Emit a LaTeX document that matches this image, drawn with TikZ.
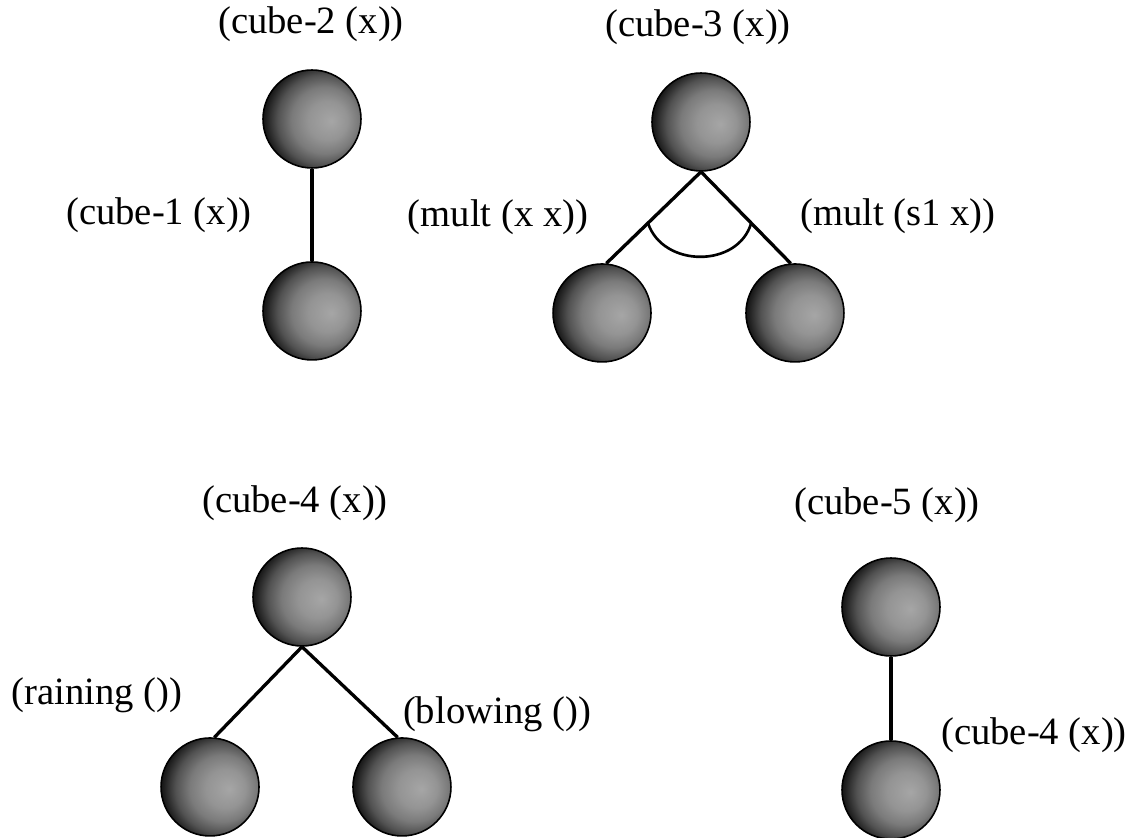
\documentclass[tikz,border=0pt]{standalone}
\usepackage{fontspec}
\setmainfont{Liberation Serif}
\usetikzlibrary{positioning, calc}
\pgfdeclareradialshading{halftone}{\pgfpoint{10bp}{-1bp}}{%
  color(0bp)=(black!35); color(10bp)=(black!42); color(17bp)=(black!52);
  color(23bp)=(black!68); color(28bp)=(black!88); color(32bp)=(black);
  color(50bp)=(black)}

\begin{document}
\begin{tikzpicture}[
    x=0.02cm, y=-0.02cm,
    ball/.style={circle, draw, line width=0.9pt, shade, shading=halftone, minimum size=1.96cm, inner sep=0pt, on grid},
    term/.style={font=\fontsize{22}{26}\selectfont, inner sep=0pt},
    edge/.style={line width=1.9pt}
]
    \useasboundingbox (0,0) rectangle (1137,838);

    % cube-2 over cube-1
    \node [ball] (c2) at (312,119) {};
    \node [ball, below=3.84cm of c2] (c1) {};
    \node [term] (t2) at (311,24) {(cube-2 (x))};
    \node [term] (t1) at (159,215) {(cube-1 (x))};

    % cube-3 with two mult children
    \node [ball] (c3) at (701,122) {};
    \node [ball, below left=3.82cm and 1.98cm of c3] (m1) {};
    \node [ball, below right=3.82cm and 1.88cm of c3] (m2) {};
    \node [term] (t3) at (698,27) {(cube-3 (x))};
    \node [term] (tm1) at (498,217) {(mult (x x))};
    \node [term] (tm2) at (898,216) {(mult (s1 x))};

    % cube-4 with raining / blowing
    \node [ball] (c4) at (302,597) {};
    \node [ball, below left=3.8cm and 1.84cm of c4] (rain) {};
    \node [ball, below right=3.8cm and 2.0cm of c4] (blow) {};
    \node [term] (t4) at (295,503) {(cube-4 (x))};
    \node [term] (tr) at (97,695) {(raining ())};
    \node [term] (tb) at (497,714) {(blowing ())};

    % cube-5 over cube-4
    \node [ball] (c5) at (891,607) {};
    \node [ball, below=3.66cm of c5] (c4b) {};
    \node [term] (t5) at (887,505) {(cube-5 (x))};
    \node [term] (t4b) at (1034,735) {(cube-4 (x))};

    \draw [edge] (c2) -- (c1);
    \draw [edge] (c3.south) -- (m1.85);
    \draw [edge] (c3.south) -- (m2.95);
    \draw [edge] (c4.south) -- (rain.85);
    \draw [edge] (c4.south) -- (blow.95);
    \draw [edge] (c5) -- (c4b);

    % and-arc between the mult branches
    \coordinate (a1) at ($(c3.south)!0.56!(m1.85)$);
    \coordinate (a2) at ($(c3.south)!0.56!(m2.95)$);
    \draw [line width=1.5pt] (a1) .. controls +(15,45) and +(-13,45) .. (a2);
\end{tikzpicture}
\end{document}
